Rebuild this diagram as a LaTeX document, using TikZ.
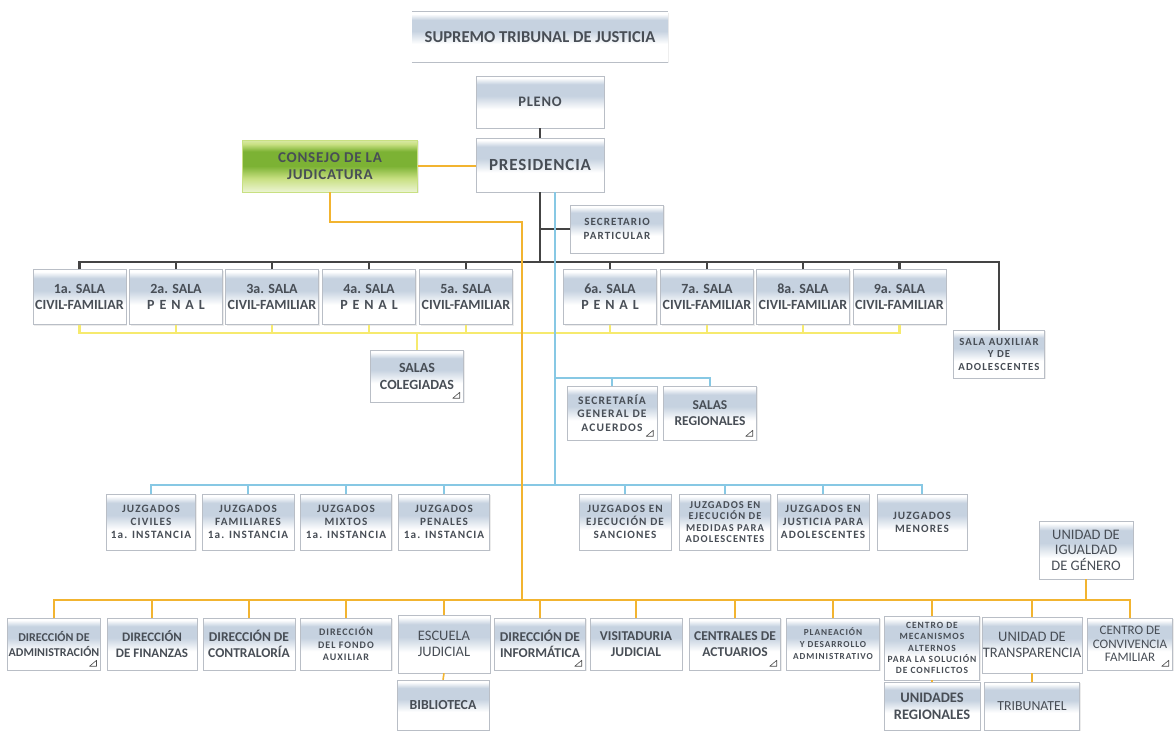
\documentclass[tikz,border=0pt]{standalone}
\usepackage{fontspec}
\setmainfont{Carlito}
\newfontfamily\spc{Carlito}[LetterSpace=10]
\newfontfamily\lsp{Carlito}[LetterSpace=5]
\newfontfamily\wsp{Carlito}[LetterSpace=35]
\usetikzlibrary{calc,shadows}
\definecolor{bandc}{RGB}{198,210,224}
\definecolor{txt}{RGB}{72,78,86}
\definecolor{orng}{RGB}{242,180,48}
\definecolor{ylw}{RGB}{246,234,110}
\definecolor{blu}{RGB}{135,200,228}
\definecolor{blk}{RGB}{68,68,68}
\definecolor{grn}{RGB}{124,178,52}
\definecolor{grnl}{RGB}{200,224,130}
\definecolor{brd}{RGB}{185,190,198}
\pgfdeclareverticalshading{boxsh}{100bp}{color(0bp)=(white); color(25bp)=(white); color(43bp)=(white); color(56bp)=(bandc); color(67bp)=(bandc); color(73bp)=(white); color(100bp)=(white)}
\pgfdeclareverticalshading{grnsh}{100bp}{color(0bp)=(grnl!35!white); color(25bp)=(grnl!35!white); color(38bp)=(grnl); color(50bp)=(grn); color(64bp)=(grn); color(71bp)=(grnl); color(75bp)=(grnl!70!white); color(100bp)=(grnl!70!white)}
\newcommand\setfs[2]{\fontsize{#1}{#2}\selectfont}
\tikzset{
  bx/.style={draw=brd, line width=0.5pt, shading=boxsh, align=center, text=txt, inner sep=1pt,
    drop shadow={opacity=0.15, shadow xshift=1.2pt, shadow yshift=-1.2pt}},
  kline/.style={draw=blk, line width=2.2pt},
  yline/.style={draw=ylw, line width=2.4pt},
  bline/.style={draw=blu, line width=2pt},
  oline/.style={draw=orng, line width=2.6pt},
  corner/.pic={\draw[draw=gray!60!black, line width=0.6pt, line join=round] (0,0) -- (-7,0) -- (0,-6) -- cycle;}
}
\begin{document}
\begin{tikzpicture}[x=1pt,y=-1pt]
\useasboundingbox (0,0) rectangle (1175,731);
\fill[white] (0,0) rectangle (1175,731);

% ---------- nodes ----------
\node[bx, draw=none, drop shadow={opacity=0}, minimum width=256, minimum height=50, font=\bfseries\setfs{16.6}{18}] (title) at (540,37) {SUPREMO TRIBUNAL DE JUSTICIA};
\draw[brd, line width=0.6pt] (title.north west) -- (title.north east);
\draw[brd, line width=0.6pt] (title.south west) -- (title.south east);

\node[bx, minimum width=128, minimum height=52, font=\bfseries\lsp\setfs{14.5}{16}] (pleno) at (540,102) {PLENO};
\node[bx, minimum width=128, minimum height=54, font=\bfseries\lsp\setfs{17}{18}] (pres) at (540,165) {PRESIDENCIA};
\node[bx, shading=grnsh, draw=grnl, minimum width=175, minimum height=52, font=\bfseries\lsp\setfs{15}{17}, text=txt] (cons) at (330,166) {CONSEJO DE LA\\JUDICATURA};
\node[bx, minimum width=93, minimum height=48, font=\bfseries\spc\setfs{11}{14}] (sec) at (617,229) {SECRETARIO\\PARTICULAR};

\tikzset{sala/.style={bx, minimum width=93, minimum height=55, font=\bfseries\setfs{14}{16}}}
\node[sala] (s1) at (79.5,297) {1a. SALA\\CIVIL-FAMILIAR};
\node[sala] (s2) at (176,297) {2a. SALA\\{\wsp PENAL}};
\node[sala] (s3) at (272,297) {3a. SALA\\CIVIL-FAMILIAR};
\node[sala] (s4) at (369,297) {4a. SALA\\{\wsp PENAL}};
\node[sala] (s5) at (466,297) {5a. SALA\\CIVIL-FAMILIAR};
\node[sala] (s6) at (610,297) {6a. SALA\\{\wsp PENAL}};
\node[sala] (s7) at (707,297) {7a. SALA\\CIVIL-FAMILIAR};
\node[sala] (s8) at (803,297) {8a. SALA\\CIVIL-FAMILIAR};
\node[sala] (s9) at (899.5,297) {9a. SALA\\CIVIL-FAMILIAR};
\node[bx, minimum width=91, minimum height=48, font=\bfseries\spc\setfs{10.8}{12.5}] (aux) at (999,354) {SALA AUXILIAR\\Y DE\\ADOLESCENTES};
\node[bx, minimum width=93, minimum height=52, font=\bfseries\setfs{14}{17}] (colg) at (417,376) {SALAS\\COLEGIADAS};
\node[bx, minimum width=90, minimum height=54, font=\bfseries\spc\setfs{11.5}{13.5}] (secg) at (612,413) {SECRETARÍA\\GENERAL DE\\ACUERDOS};
\node[bx, minimum width=93, minimum height=54, font=\bfseries\setfs{13.5}{16}] (sreg) at (710,413) {SALAS\\REGIONALES};

\tikzset{juz/.style={bx, minimum height=56, font=\bfseries\spc\setfs{11.2}{13}}}
\node[juz, minimum width=89] (jc) at (151,522) {JUZGADOS\\CIVILES\\1a. INSTANCIA};
\node[juz, minimum width=92] (jf) at (248,522) {JUZGADOS\\FAMILIARES\\1a. INSTANCIA};
\node[juz, minimum width=91] (jm) at (346,522) {JUZGADOS\\MIXTOS\\1a. INSTANCIA};
\node[juz, minimum width=91] (jp) at (444,522) {JUZGADOS\\PENALES\\1a. INSTANCIA};
\node[juz, minimum width=92] (je) at (625,522) {JUZGADOS EN\\EJECUCIÓN DE\\SANCIONES};
\node[juz, minimum width=91, font=\bfseries\spc\setfs{10.5}{11.5}] (jem) at (725,522) {JUZGADOS EN\\EJECUCIÓN DE\\MEDIDAS PARA\\ADOLESCENTES};
\node[juz, minimum width=92] (jja) at (823,522) {JUZGADOS EN\\JUSTICIA PARA\\ADOLESCENTES};
\node[juz, minimum width=90] (jme) at (922,522) {JUZGADOS\\MENORES};

\node[bx, minimum width=94, minimum height=58, font=\setfs{14.5}{15.5}] (igual) at (1086,550) {UNIDAD DE\\IGUALDAD\\DE GÉNERO};

\tikzset{dir/.style={bx, minimum height=52}}
\node[dir, minimum width=92, font=\bfseries\setfs{12}{15}] (d1) at (54,644) {DIRECCIÓN DE\\ADMINISTRACIÓN};
\node[dir, minimum width=90, font=\bfseries\setfs{13}{16}] (d2) at (152,644) {DIRECCIÓN\\DE FINANZAS};
\node[dir, minimum width=92, font=\bfseries\setfs{13.5}{16}] (d3) at (249,644) {DIRECCIÓN DE\\CONTRALORÍA};
\node[dir, minimum width=91, font=\bfseries\spc\setfs{10}{12.5}] (d4) at (346,644) {DIRECCIÓN\\DEL FONDO\\AUXILIAR};
\node[dir, minimum width=92, minimum height=58, font=\setfs{14.5}{16.5}] (d5) at (444,644) {ESCUELA\\JUDICIAL};
\node[dir, minimum width=91, font=\bfseries\setfs{13.5}{16}] (d6) at (540,644) {DIRECCIÓN DE\\INFORMÁTICA};
\node[dir, minimum width=92, font=\bfseries\setfs{13.5}{16}] (d7) at (636,644) {VISITADURIA\\JUDICIAL};
\node[dir, minimum width=91, font=\bfseries\setfs{13.5}{16}] (d8) at (735,644) {CENTRALES DE\\ACTUARIOS};
\node[dir, minimum width=93, font=\bfseries\spc\setfs{9.2}{12}] (d9) at (833,644) {PLANEACIÓN\\Y DESARROLLO\\ADMINISTRATIVO};
\node[dir, minimum width=95, minimum height=64, font=\bfseries\spc\setfs{9.5}{11.2}] (d10) at (932,648) {CENTRO DE\\MECANISMOS\\ALTERNOS\\PARA LA SOLUCIÓN\\DE CONFLICTOS};
\node[dir, minimum width=95, minimum height=56, font=\setfs{14.5}{16}] (d11) at (1032,645) {UNIDAD DE\\TRANSPARENCIA};
\node[dir, minimum width=85, font=\setfs{13}{13.5}] (d12) at (1130,644) {CENTRO DE\\CONVIVENCIA\\FAMILIAR};
\node[bx, minimum width=92, minimum height=50, font=\bfseries\setfs{13.8}{16}] (bib) at (443,705) {BIBLIOTECA};
\node[bx, minimum width=96, minimum height=48, font=\bfseries\setfs{14.5}{17}] (ureg) at (932,706) {UNIDADES\\REGIONALES};
\node[bx, minimum width=95, minimum height=48, font=\setfs{13.8}{15}] (trib) at (1032,706) {TRIBUNATEL};

% corner marks
\foreach \n in {colg,secg,sreg,d1,d6,d8,d12}
  \pic at ([shift={(-4pt,4pt)}]\n.south east) {corner};

% ---------- connectors ----------
% yellow (salas colegiadas)
\coordinate (yb) at (417,333);
\draw[yline] (s1.south) |- (yb) -| (s9.south);
\foreach \n in {s2,s3,s4,s5,s6,s7,s8}
  \draw[yline] (\n.south) -- (\n.south |- yb);
\draw[yline] (colg.north) -- (colg.north |- yb);

% black
\coordinate (bk) at (540,262);
\draw[kline] (pleno.south) -- (pres.north);
\draw[kline] (pres.south) -- (bk);
\draw[kline] (sec.west) -- (sec.west -| bk);
\draw[kline] (s1.north) |- (bk) -| (aux.north);
\foreach \n in {s2,s3,s4,s5,s6,s7,s8,s9}
  \draw[kline] (\n.north) -- (\n.north |- bk);

% blue
\coordinate (bj) at (555,485);
\coordinate (br) at (555,378);
\draw[bline] ([xshift=15pt]pres.south) -- (bj);
\draw[bline] (br) -| (sreg.north);
\draw[bline] (secg.north) -- (secg.north |- br);
\draw[bline] (jc.north) |- (bj) -| (jme.north);
\foreach \n in {jf,jm,jp,je,jem,jja}
  \draw[bline] (\n.north) -- (\n.north |- bj);

% orange
\coordinate (oc) at (522,222);
\coordinate (ob) at (522,600);
\draw[oline] (cons.east) -- (cons.east -| pres.west);
\draw[oline] (cons.south) |- (oc) -- (ob);
\draw[oline] (d1.north) |- (ob) -| (d12.north);
\foreach \n in {d2,d3,d4,d5,d6,d7,d8,d9,d10,d11}
  \draw[oline] (\n.north) -- (\n.north |- ob);
\draw[oline] (igual.south) -- (igual.south |- ob);
\draw[oline, line width=1.6pt] (d5.south) -- (bib.north);
\draw[oline, line width=1.6pt] (d10.south) -- (ureg.north);
\draw[oline, line width=1.6pt] (d11.south) -- (trib.north);
\end{tikzpicture}
\end{document}
